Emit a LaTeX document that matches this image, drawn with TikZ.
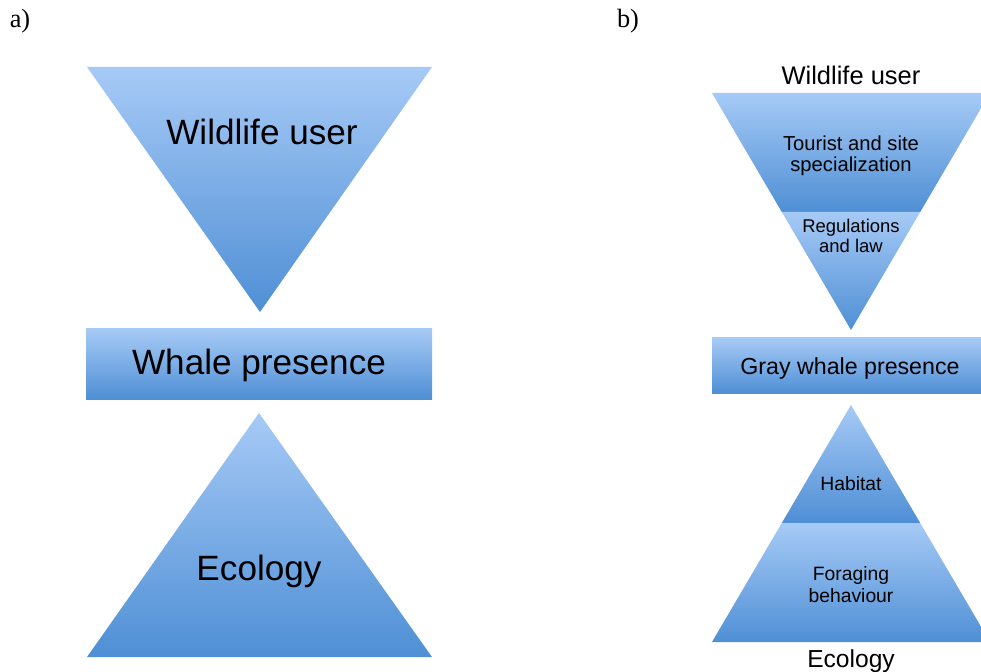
\documentclass[tikz,border=0pt]{standalone}
\usepackage{fontspec}
\setmainfont{Liberation Sans}
\newfontfamily\panelfont{Liberation Serif}
\definecolor{paleblue}{HTML}{A6CAF6}
\definecolor{deepblue}{HTML}{4F8FD5}

\begin{document}
\begin{tikzpicture}[x=0.02cm,y=-0.02cm,
  slab/.style={top color=paleblue, bottom color=deepblue},
  panel/.style={anchor=base, font=\panelfont\fontsize{15}{17}\selectfont},
  biglabel/.style={anchor=base, font=\fontsize{20}{22}\selectfont},
  midlabel/.style={anchor=base, font=\fontsize{14.5}{16}\selectfont},
  smalllabel/.style={anchor=base, align=center, font=\fontsize{11}{12.5}\selectfont}]
\useasboundingbox (0,0) rectangle (981,672);

% panel a
\node[panel] (tagA) at (20,28) {a)};
\shade[slab] (87,67) -- (432,67) -- (260,312) -- cycle;
\shade[slab] (86,329) rectangle (432,399);
\shade[slab] (259,413) -- (432,657) -- (87,657) -- cycle;
\node[biglabel] (userA) at (262,145) {Wildlife user};
\node[biglabel] (whaleA) at (259,375) {Whale presence};
\node[biglabel] (ecoA) at (259,580) {Ecology};

% panel b (two-line labels sit on their last line)
\node[panel] (tagB) at (628,28) {b)};
\shade[slab] (712,93) -- (990,93) -- (920.2,212) -- (781.8,212) -- cycle;
\shade[slab] (781.8,212) -- (920.2,212) -- (851,330) -- cycle;
\shade[slab] (712,338) rectangle (990,393);
\shade[slab] (851,405) -- (920.2,523) -- (781.8,523) -- cycle;
\shade[slab] (781.8,523) -- (920.2,523) -- (990,642) -- (712,642) -- cycle;
\node[midlabel] (userB) at (851,85) {Wildlife user};
\node[smalllabel, font=\fontsize{11.5}{12.5}\selectfont] (tourist) at (851,172) {Tourist and site\\specialization};
\node[smalllabel, font=\fontsize{10.5}{11.4}\selectfont] (rules) at (851,253) {Regulations\\and law};
\node[anchor=base, font=\fontsize{13.2}{15}\selectfont] (whaleB) at (850,375) {Gray whale presence};
\node[smalllabel] (habitat) at (851,490) {Habitat};
\node[smalllabel] (forage) at (851,602) {Foraging\\behaviour};
\node[midlabel, font=\fontsize{14}{16}\selectfont] (ecoB) at (851,667) {Ecology};
\end{tikzpicture}
\end{document}
